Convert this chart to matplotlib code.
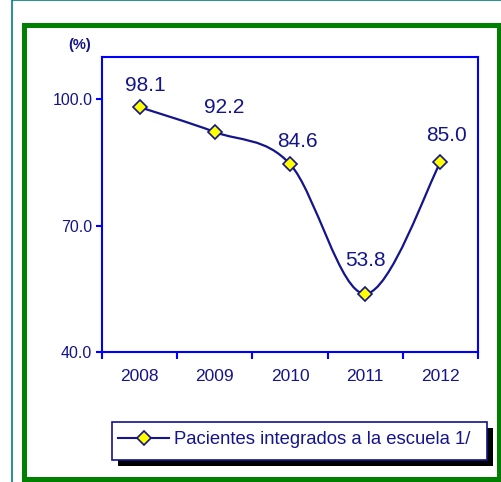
import matplotlib.pyplot as plt
from matplotlib.patches import Rectangle, PathPatch
from matplotlib.path import Path
from matplotlib.lines import Line2D

plt.rcParams['font.family'] = ['Liberation Sans', 'DejaVu Sans']

years = ['2008', '2009', '2010', '2011', '2012']
pacientes = [98.1, 92.2, 84.6, 53.8, 85.0]
serie = 'Pacientes integrados a la escuela 1/'

# desplazamiento de cada etiqueta (px)
label_offsets = [(6, 22), (9, 25), (7, 23), (0, 33), (6, 27)]

navy = '#14148c'
blue = '#0000ff'

W, H = 502, 482
fig = plt.figure(figsize=(W / 100, H / 100), dpi=100)


def fx(px):
    return px / W


def fy(py):
    return 1 - py / H


# marcos exteriores
fig.patches.append(Rectangle((fx(12.5), fy(520)), fx(520), 520 / H, transform=fig.transFigure,
                             facecolor='white', edgecolor='#008080', lw=1.2, zorder=0))
fig.patches.append(Rectangle((fx(24.5), fy(478.5)), fx(475), 454 / H, transform=fig.transFigure,
                             facecolor='white', edgecolor='#008000', lw=3.6, zorder=1))

ax = fig.add_axes([fx(102), fy(352), fx(376), 295 / H])
ax.set_zorder(3)
ax.set_xlim(-0.5, 4.5)
ax.set_ylim(40, 110)
ax.set_facecolor('none')

x = list(range(len(years)))

# linea suavizada (bezier tipo Excel)
verts = [(x[0], pacientes[0])]
codes = [Path.MOVETO]
pts = list(zip(x, pacientes))
for i in range(len(pts) - 1):
    p0 = pts[i - 1] if i > 0 else pts[i]
    p1 = pts[i]
    p2 = pts[i + 1]
    p3 = pts[i + 2] if i + 2 < len(pts) else pts[i + 1]
    c1 = (p1[0] + (p2[0] - p0[0]) / 6, p1[1] + (p2[1] - p0[1]) / 6)
    c2 = (p2[0] - (p3[0] - p1[0]) / 6, p2[1] - (p3[1] - p1[1]) / 6)
    verts += [c1, c2, p2]
    codes += [Path.CURVE4] * 3
ax.add_patch(PathPatch(Path(verts, codes), facecolor='none', edgecolor=navy, lw=1.6, zorder=2))
ax.plot(x, pacientes, ls='none', marker='D', ms=7, mfc='#ffff00', mec=navy, mew=1.2, zorder=3)

for xi, v, off in zip(x, pacientes, label_offsets):
    ax.annotate(f'{v:.1f}', (xi, v), xytext=off, textcoords='offset pixels',
                ha='center', va='center', fontsize=15, color=navy)

for s in ax.spines.values():
    s.set_color(blue)
    s.set_linewidth(1.5)

ax.set_yticks([40, 70, 100])
ax.set_yticklabels([f'{t:.1f}' for t in [40, 70, 100]])
ax.tick_params(axis='y', direction='out', length=4, width=1.5, color=blue,
               labelsize=11.5, labelcolor=navy, pad=3)
ax.set_xticks(x)
ax.set_xticklabels(years)
ax.set_xticks([i - 0.5 for i in range(len(years) + 1)], minor=True)
ax.tick_params(axis='x', which='major', length=0, labelsize=12.5, labelcolor=navy, pad=12)
ax.tick_params(axis='x', which='minor', direction='out', length=5, width=1.5, color=blue)

fig.text(fx(80), fy(45), '(%)', ha='center', va='center', fontsize=10.5,
         fontweight='bold', color=navy)

# leyenda con sombra
fig.patches.append(Rectangle((fx(118), fy(466)), fx(375), 38 / H, transform=fig.transFigure,
                             facecolor='black', edgecolor='none', zorder=4))
fig.patches.append(Rectangle((fx(112), fy(460)), fx(375), 38 / H, transform=fig.transFigure,
                             facecolor='white', edgecolor=navy, lw=1.2, zorder=5))
fig.lines.append(Line2D([fx(118), fx(169)], [fy(438), fy(438)], transform=fig.transFigure,
                        color=navy, lw=1.5, zorder=6))
fig.lines.append(Line2D([fx(143.5)], [fy(438)], transform=fig.transFigure, marker='D', ms=7,
                        mfc='#ffff00', mec=navy, mew=1.2, zorder=7))
fig.text(fx(174), fy(439), serie, ha='left', va='center', fontsize=13.3, color=navy, zorder=8)

fig.savefig('out.png', dpi=100)
